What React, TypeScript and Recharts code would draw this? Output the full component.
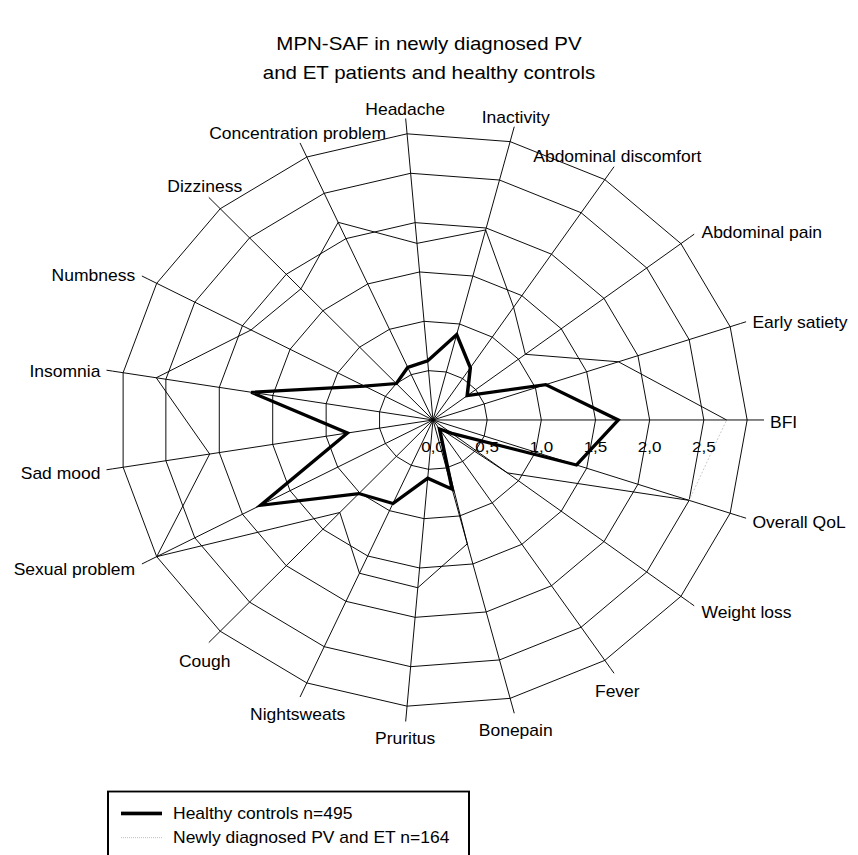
import { RadarChart, Radar, PolarGrid, PolarAngleAxis, PolarRadiusAxis } from "recharts";

// axes, counter-clockwise starting at 3 o'clock
const CATEGORIES = [
  "BFI",
  "Early satiety",
  "Abdominal pain",
  "Abdominal discomfort",
  "Inactivity",
  "Headache",
  "Concentration problem",
  "Dizziness",
  "Numbness",
  "Insomnia",
  "Sad mood",
  "Sexual problem",
  "Cough",
  "Nightsweats",
  "Pruritus",
  "Bonepain",
  "Fever",
  "Weight loss",
  "Overall QoL",
];

const HEALTHY = [1.71, 1.1, 0.4, 0.63, 0.89, 0.6, 0.58, 0.5, 0.72, 1.7, 0.8, 1.81, 1.01, 0.92, 0.59, 0.72, 0.11, 0.22, 1.4];
const PV_ET = [2.71, 1.81, 1.08, 1.36, 1.98, 1.79, 2.18, 1.8, 1.91, 2.59, 2.09, 2.9, 1.27, 1.69, 1.7, 1.29, 0.09, 0.87, 2.5];

const RADIUS_TICKS = [0, 0.5, 1, 1.5, 2, 2.5, 2.9];
const TICK_LABELS = ["0,0", "0,5", "1,0", "1,5", "2,0", "2,5"];

// numeric angle key so every axis sits exactly at i * 360 / n
const ANGLE_TICKS = CATEGORIES.map((_, i) => i);
const data = CATEGORIES.map((name, i) => ({ idx: i, name, healthy: HEALTHY[i], pv: PV_ET[i] }));

// the source picture is squashed vertically
const SQUASH = 0.914;
const W = 858;
const H = 935;
const CX = 433;
const CY = 459.5;
const OUTER = 325;
const FONT = '"Liberation Sans", Arial, sans-serif';

function AngleTick(props: any) {
  const { x, y, payload } = props;
  const dx = x - CX;
  const dy = y - CY;
  const len = Math.hypot(dx, dy) || 1;
  const c = dx / len;
  const s = -dy / len;
  const ex = CX + c * OUTER;
  const ey = CY - s * OUTER;
  let tx: number, ty: number, anchor: "start" | "end" | "middle";
  if (Math.abs(c) > 0.72) {
    anchor = c > 0 ? "start" : "end";
    tx = ex + (c > 0 ? 12 : -12);
    ty = ey - 13 * s + 3;
  } else {
    anchor = "middle";
    tx = ex + 12 * c;
    ty = s > 0 ? ey - 16 : ey + 25;
  }
  return (
    <text x={tx} y={ty} textAnchor={anchor} dominantBaseline="central" fontSize={17.5} fontFamily={FONT} fill="#000">
      {CATEGORIES[payload.value]}
    </text>
  );
}

function RadiusTick(props: any) {
  const { x, y, index } = props;
  const label = TICK_LABELS[index];
  if (!label) return <g />;
  return (
    <text x={x} y={y + 29} textAnchor="middle" dominantBaseline="central" fontSize={17} fontFamily={FONT} fill="#000">
      {label}
    </text>
  );
}

// thin series; the closing segment (QoL -> BFI) shows up dotted grey in the original
function PvShape(props: any) {
  const pts = props.points || [];
  const n = pts.length;
  const segs = [];
  for (let i = 0; i < n; i++) {
    const a = pts[i];
    const b = pts[(i + 1) % n];
    const dotted = i === n - 1;
    segs.push(
      <line
        key={i}
        x1={a.x}
        y1={a.y}
        x2={b.x}
        y2={b.y}
        stroke={dotted ? "#c4c4c4" : "#000"}
        strokeWidth={1}
        strokeDasharray={dotted ? "2 2" : undefined}
      />
    );
  }
  return <g>{segs}</g>;
}

export default function App() {
  return (
    <div style={{ position: "absolute", left: 0, top: 0, width: 858, height: 855, overflow: "hidden", background: "#fff" }}>
      <div
        style={{
          position: "relative",
          width: W,
          height: H,
          transform: `scaleY(${SQUASH})`,
          transformOrigin: "0 0",
          fontFamily: FONT,
          color: "#000",
        }}
      >
        <div style={{ position: "absolute", left: 0, top: 33, width: W, textAlign: "center", fontSize: 20.5, lineHeight: "30.5px" }}>
          MPN-SAF in newly diagnosed PV
          <br />
          and ET patients and healthy controls
        </div>

        <div style={{ position: "absolute", left: 0, top: 0 }}>
          <RadarChart
            width={W}
            height={H}
            data={data}
            cx={CX}
            cy={CY}
            outerRadius={OUTER}
            startAngle={0}
            endAngle={360}
            margin={{ top: 0, right: 0, bottom: 0, left: 0 }}
          >
            <PolarGrid gridType="polygon" stroke="#000" strokeWidth={1} />
            <PolarAngleAxis
              dataKey="idx"
              type="number"
              domain={[0, CATEGORIES.length]}
              ticks={ANGLE_TICKS}
              tick={<AngleTick />}
              tickSize={6}
              tickLine={{ stroke: "#000" }}
              axisLine={false}
            />
            <PolarRadiusAxis
              angle={0}
              type="number"
              domain={[0, 2.9]}
              ticks={RADIUS_TICKS}
              tick={<RadiusTick />}
              axisLine={false}
              tickLine={false}
            />
            <Radar
              dataKey="pv"
              stroke="#000"
              fill="none"
              dot={false}
              shape={(p: any) => <PvShape {...p} />}
              isAnimationActive={false}
            />
            <Radar
              dataKey="healthy"
              stroke="#000"
              strokeWidth={3.5}
              fill="none"
              fillOpacity={0}
              dot={false}
              isAnimationActive={false}
            />
          </RadarChart>
        </div>

        <div
          style={{
            position: "absolute",
            left: 107,
            top: 865,
            width: 363,
            height: 90,
            border: "2px solid #000",
            boxSizing: "border-box",
          }}
        />
        <div style={{ position: "absolute", left: 121, top: 888, width: 41, height: 4, background: "#000" }} />
        <div style={{ position: "absolute", left: 173, top: 878.5, fontSize: 17.5, lineHeight: "22px", whiteSpace: "nowrap" }}>
          Healthy controls n=495
        </div>
        <div style={{ position: "absolute", left: 121, top: 915.5, width: 41, borderTop: "1px dotted #bdbdbd" }} />
        <div style={{ position: "absolute", left: 173, top: 905, fontSize: 17.5, lineHeight: "22px", whiteSpace: "nowrap" }}>
          Newly diagnosed PV and ET n=164
        </div>
      </div>
    </div>
  );
}
